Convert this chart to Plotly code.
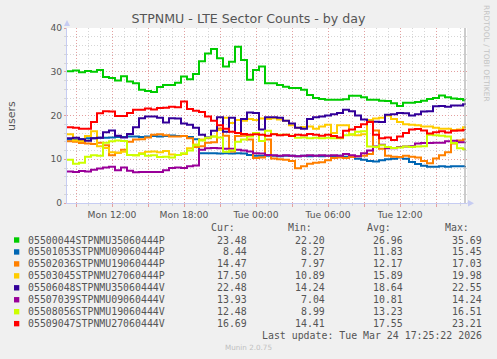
import pandas as pd
import plotly.graph_objects as go

# legend table
names = ["05500044STPNMU35060444P", "05501053STPNMU09060444P", "05502036STPNMU19060444P",
         "05503045STPNMU27060444P", "05506048STPNMU35060444V", "05507039STPNMU09060444V",
         "05508056STPNMU19060444V", "05509047STPNMU27060444V"]
colors = ["#00CC00", "#0066B3", "#FF8000", "#FFCC00", "#330099", "#990099", "#CCFF00", "#FF0000"]
cur = [23.48, 8.44, 14.47, 17.50, 22.48, 13.93, 12.48, 16.69]
mins = [22.20, 8.27, 7.97, 10.89, 14.24, 7.04, 8.99, 14.41]
avgs = [26.96, 11.83, 12.17, 15.89, 18.64, 10.81, 13.23, 17.55]
maxs = [35.69, 15.45, 17.03, 19.98, 22.55, 14.24, 16.51, 23.21]

# samples every 30 min from Mon 08:15, last one at the update time
times = list(pd.date_range("2026-03-23 08:15", periods=67, freq="30min")) + [pd.Timestamp("2026-03-24 17:25")]

s_35060444P = [30.1, 30.3, 29.9, 30.2, 30.0, 30.4, 28.8, 28.6, 28.0, 29.0,
               27.8, 27.4, 25.9, 25.6, 25.4, 26.5, 27.0, 27.0, 27.5, 28.9,
               28.3, 29.5, 32.4, 34.2, 35.2, 33.1, 31.2, 32.3, 35.69, 32.7,
               28.2, 30.4, 31.2, 27.4, 27.4, 27.0, 26.6, 26.3, 26.3, 25.9,
               24.7, 24.0, 23.8, 23.6, 23.6, 23.6, 23.7, 24.5, 24.5, 24.2,
               23.6, 23.6, 23.4, 23.3, 22.8, 22.2, 22.9, 22.9, 23.1, 23.4,
               23.8, 24.0, 24.6, 24.2, 23.9, 23.8, 23.5, 23.48]
s_09060444P = [14.5, 14.5, 14.6, 14.8, 14.8, 14.9, 14.9, 15.0, 15.1, 15.1,
               15.2, 15.2, 15.1, 15.2, 15.3, 15.2, 15.3, 15.45, 15.3, 15.3,
               15.1, 14.6, 11.4, 11.4, 11.4, 11.3, 11.4, 11.3, 11.4, 11.3,
               11.0, 10.8, 10.8, 10.8, 10.8, 10.7, 10.8, 10.8, 10.7, 10.8,
               10.7, 10.8, 10.7, 10.8, 10.7, 10.8, 10.6, 10.7, 10.1, 9.9,
               9.6, 9.5, 9.8, 10.0, 10.1, 10.4, 10.1, 9.4, 8.9, 8.5,
               8.27, 8.3, 8.4, 8.3, 8.4, 8.4, 8.4, 8.44]
s_19060444P = [14.1, 14.0, 13.7, 13.6, 13.5, 13.8, 13.2, 10.9, 11.5, 12.2,
               14.0, 14.5, 14.6, 15.0, 15.6, 15.7, 15.5, 15.2, 15.2, 15.3,
               14.8, 12.8, 13.0, 13.8, 13.9, 17.03, 15.4, 11.8, 15.3, 15.4,
               14.5, 10.3, 10.4, 14.5, 10.2, 10.0, 9.9, 9.6, 7.97, 8.4,
               9.0, 9.2, 9.3, 9.8, 10.3, 10.4, 10.3, 10.5, 10.7, 10.8,
               11.2, 16.6, 12.4, 10.8, 10.6, 10.5, 10.8, 10.6, 10.4, 9.6,
               9.1, 10.2, 10.9, 11.6, 13.6, 14.3, 14.5, 14.47]
s_27060444P = [15.7, 14.3, 14.2, 15.3, 16.4, 13.0, 12.6, 11.6, 11.5, 11.7,
               11.0, 10.89, 11.4, 11.7, 11.8, 11.6, 11.9, 11.1, 11.0, 11.2,
               12.5, 13.4, 14.5, 14.8, 15.2, 16.7, 19.5, 18.3, 19.0, 18.8,
               19.2, 19.0, 19.3, 19.2, 19.4, 19.1, 18.8, 17.8, 17.2, 17.4,
               17.5, 17.0, 17.5, 17.9, 16.0, 17.8, 17.8, 15.6, 15.5, 15.7,
               19.0, 19.3, 19.5, 19.98, 19.2, 18.5, 18.0, 17.9, 17.8, 17.5,
               17.5, 17.2, 17.0, 17.0, 16.7, 16.8, 17.3, 17.50]
s_35060444V = [14.8, 14.9, 14.6, 14.24, 14.8, 14.9, 16.2, 16.6, 15.4, 15.0,
               15.8, 17.3, 19.4, 19.8, 19.8, 19.5, 18.4, 19.4, 19.3, 18.2,
               17.9, 17.2, 15.6, 15.0, 16.5, 19.6, 16.3, 19.5, 16.0, 19.2,
               20.7, 20.6, 16.8, 19.6, 19.6, 19.5, 18.8, 18.2, 17.2, 17.0,
               19.2, 19.6, 19.8, 20.0, 20.3, 20.6, 21.3, 21.0, 20.0, 19.1,
               18.6, 18.6, 18.5, 20.2, 20.3, 20.6, 20.5, 20.0, 20.3, 20.9,
               21.0, 22.1, 22.2, 22.0, 22.3, 22.3, 22.55, 22.48]
s_09060444V = [7.2, 7.1, 7.3, 7.2, 7.6, 7.9, 8.1, 8.3, 7.5, 8.1,
               7.4, 7.04, 7.1, 7.1, 7.1, 7.1, 7.5, 8.0, 8.1, 8.0,
               8.4, 8.6, 12.2, 12.5, 12.6, 12.5, 12.4, 12.4, 12.2, 12.0,
               11.8, 11.4, 11.3, 11.0, 10.9, 10.8, 10.9, 10.8, 10.7, 10.8,
               10.9, 10.8, 10.9, 10.8, 10.9, 10.8, 11.2, 10.9, 10.7, 11.4,
               12.0, 12.9, 13.3, 12.5, 12.5, 12.8, 12.9, 13.0, 13.6, 13.7,
               13.7, 13.8, 13.8, 14.1, 14.24, 13.9, 13.9, 13.93]
s_19060444V = [9.9, 8.99, 9.2, 10.6, 10.9, 10.8, 13.8, 14.1, 14.3, 14.2,
               11.0, 10.9, 11.2, 10.8, 10.9, 10.5, 10.6, 10.4, 11.0, 11.4,
               12.0, 13.2, 14.3, 14.9, 15.2, 15.0, 11.7, 12.0, 14.0, 14.5,
               15.2, 16.0, 14.2, 16.51, 15.8, 15.6, 15.6, 15.4, 14.9, 15.0,
               14.8, 14.9, 14.8, 14.9, 14.8, 14.8, 15.5, 15.7, 16.3, 16.4,
               12.9, 12.8, 13.2, 12.8, 12.6, 12.7, 12.9, 12.8, 12.9, 13.0,
               15.6, 15.5, 15.4, 15.2, 13.7, 12.5, 12.3, 12.48]
s_27060444V = [17.3, 17.2, 17.0, 17.0, 18.5, 20.5, 21.0, 20.9, 19.9, 19.9,
               20.6, 21.3, 21.3, 21.6, 21.4, 21.7, 21.8, 22.0, 21.9, 23.21,
               21.5, 21.1, 20.8, 19.8, 18.8, 17.8, 17.0, 16.3, 16.0, 15.8,
               15.6, 15.7, 15.6, 15.4, 15.7, 15.5, 15.6, 15.3, 15.6, 15.5,
               15.8, 15.6, 15.4, 15.6, 15.3, 15.0, 16.5, 16.8, 17.4, 18.0,
               18.5, 15.6, 14.8, 15.0, 14.41, 15.2, 16.0, 16.8, 16.9, 16.6,
               15.9, 16.2, 16.4, 16.1, 16.5, 16.6, 16.7, 16.69]
series = [s_35060444P, s_09060444P, s_19060444P, s_27060444P,
          s_35060444V, s_09060444V, s_19060444V, s_27060444V]

W, H = 497, 359
L, R, T, B = 67, 30, 28, 156
PW, PH = W - L - R, H - T - B
TXT = "#555555"
MONO = "DejaVu Sans Mono"
SANS = "DejaVu Sans"
MGRID = "#E3A0A0"
GRID = "#D6D6D6"
AXIS = "#C6CCF2"


def px(x, y):
    # pixel position on the page -> paper coordinates
    return (x - L) / PW, 1 - (y - T) / PH


fig = go.Figure()
for name, col, ys in zip(names, colors, series):
    fig.add_trace(go.Scatter(x=times, y=ys, name=name, mode="lines",
                             line=dict(color=col, width=2, shape="hv"), showlegend=False))

ticks = pd.date_range("2026-03-23 09:00", "2026-03-24 15:00", freq="3h")
ticktext = [t.strftime("%a %H:%M") if t.hour % 6 == 0 else "" for t in ticks]

fig.update_xaxes(range=["2026-03-23 08:15", "2026-03-24 17:35"], type="date", automargin=False,
                 tickmode="array", tickvals=list(ticks), ticktext=ticktext,
                 showgrid=True, gridcolor=MGRID, griddash="1px,2px", gridwidth=1,
                 showline=True, linecolor=AXIS, linewidth=1, zeroline=False,
                 ticks="outside", ticklen=3, tickcolor=MGRID,
                 tickfont=dict(family=SANS, size=9.2, color=TXT),
                 minor=dict(tickmode="linear", tick0="2026-03-23 09:00", dtick=3600000,
                            showgrid=True, gridcolor=GRID, griddash="1px,2px",
                            ticks="outside", ticklen=2, tickcolor=GRID))
fig.update_yaxes(range=[0, 40], tickmode="array", tickvals=[0, 10, 20, 30, 40], automargin=False,
                 showgrid=True, gridcolor=MGRID, griddash="1px,2px", gridwidth=1,
                 showline=True, linecolor=AXIS, linewidth=1, zeroline=False,
                 ticks="outside", ticklen=2, tickcolor=MGRID,
                 tickfont=dict(family=SANS, size=9.2, color=TXT),
                 minor=dict(tickmode="linear", tick0=0, dtick=2,
                            showgrid=True, gridcolor=GRID, griddash="1px,2px",
                            ticks="outside", ticklen=2, tickcolor=GRID))

shapes = []
# "now" rule
shapes.append(dict(type="line", xref="x", yref="paper", x0="2026-03-24 17:25", x1="2026-03-24 17:25",
                   y0=0, y1=1, line=dict(color="#999999", width=1)))
# axis arrows
ax0, ay0 = px(64, 26)
ax1, _ = px(70, 26)
amx, atop = px(67, 20)
shapes.append(dict(type="path", xref="paper", yref="paper",
                   path=f"M {ax0} {ay0} L {ax1} {ay0} L {amx} {atop} Z",
                   fillcolor=AXIS, line=dict(width=0)))
bx0, by0 = px(468, 200)
_, by1 = px(468, 206.6)
bx1, bym = px(474, 203.3)
shapes.append(dict(type="path", xref="paper", yref="paper",
                   path=f"M {bx0} {by0} L {bx0} {by1} L {bx1} {bym} Z",
                   fillcolor=AXIS, line=dict(width=0)))
shapes.append(dict(type="line", xref="paper", yref="paper", x0=1, x1=bx0, y0=0, y1=0,
                   line=dict(color=AXIS, width=1)))

annotations = []


def label(x, y, text, size=9.9, family=MONO, color=TXT, anchor="left", angle=0):
    xp, yp = px(x, y)
    annotations.append(dict(x=xp, y=yp, xref="paper", yref="paper", text=text, showarrow=False,
                            xanchor=anchor, yanchor="middle", textangle=angle,
                            font=dict(family=family, size=size, color=color),
                            borderpad=0))


label(11.5, 115.5, "users", size=11, family=SANS, anchor="center", angle=-90)
label(486, 53, "RRDTOOL / TOBI OETIKER", size=7.5, family=SANS, color="#C4C4C4", anchor="center", angle=90)

label(235.7, 227.7, "Cur:", anchor="right")
label(313.3, 227.7, "Min:", anchor="right")
label(391.7, 227.7, "Avg:", anchor="right")
label(470.0, 227.7, "Max:", anchor="right")
for k, name in enumerate(names):
    yrow = 240 + 11.95 * k
    x0, y0 = px(14, yrow - 2.7)
    x1, y1 = px(19.3, yrow + 2.7)
    shapes.append(dict(type="rect", xref="paper", yref="paper", x0=x0, x1=x1, y0=y0, y1=y1,
                       fillcolor=colors[k], line=dict(width=0)))
    label(26.7, yrow, name)
    label(248.0, yrow, f"{cur[k]:.2f}", anchor="right")
    label(326.0, yrow, f"{mins[k]:.2f}", anchor="right")
    label(404.3, yrow, f"{avgs[k]:.2f}", anchor="right")
    label(482.7, yrow, f"{maxs[k]:.2f}", anchor="right")
label(482.7, 335.7, "Last update: Tue Mar 24 17:25:22 2026", anchor="right")
label(248, 347.8, "Munin 2.0.75", size=7.2, family=SANS, color="#C0C0C0", anchor="center")

fig.update_layout(
    width=W, height=H,
    margin=dict(l=L, r=R, t=T, b=B),
    paper_bgcolor="#F0F0F0", plot_bgcolor="#FFFFFF",
    hovermode=False,
    title=dict(text="STPNMU - LTE Sector Counts - by day", x=0.5, xanchor="center",
               y=1 - 19 / H, yanchor="middle", automargin=False,
               font=dict(family=SANS, size=12.6, color=TXT)),
    shapes=shapes, annotations=annotations,
)

# the browser's default 8px body margin would push the figure off the window
fig.write_html("out.html", config={"displayModeBar": False},
               post_script="document.body.style.margin='0';")
